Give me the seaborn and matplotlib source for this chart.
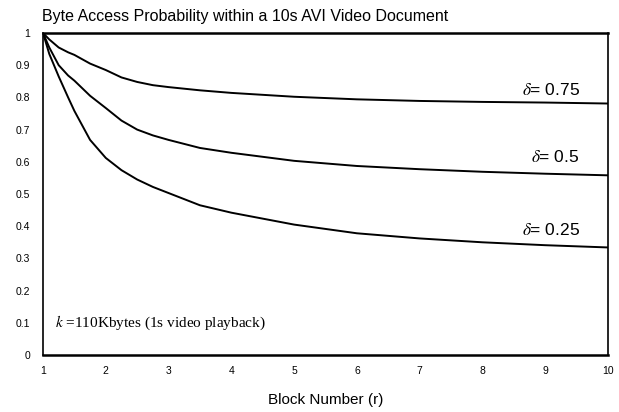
import numpy as np
import pandas as pd
import matplotlib
matplotlib.use("Agg")
import matplotlib.pyplot as plt
import seaborn as sns

# Data
block = [1, 1.1, 1.25, 1.4, 1.5, 1.75, 2, 2.25, 2.5, 2.75, 3, 3.5, 4, 5, 6, 7, 8, 9, 10]
p_075 = [1.0, 0.980, 0.955, 0.940, 0.932, 0.905, 0.885, 0.862, 0.848, 0.838, 0.832, 0.822, 0.814, 0.802, 0.794, 0.789, 0.786, 0.784, 0.781]
p_050 = [1.0, 0.955, 0.900, 0.868, 0.852, 0.805, 0.767, 0.728, 0.700, 0.682, 0.668, 0.643, 0.628, 0.603, 0.587, 0.577, 0.569, 0.563, 0.558]
p_025 = [1.0, 0.935, 0.865, 0.800, 0.758, 0.668, 0.612, 0.574, 0.545, 0.522, 0.503, 0.465, 0.442, 0.405, 0.378, 0.362, 0.350, 0.341, 0.334]
deltas = ["0.75", "0.5", "0.25"]
x_ticks = list(range(1, 11))
y_ticks = [0, 0.1, 0.2, 0.3, 0.4, 0.5, 0.6, 0.7, 0.8, 0.9, 1]
y_tick_labels = ["0", "0.1", "0.2", "0.3", "0.4", "0.5", "0.6", "0.7", "0.8", "0.9", "1"]

df = pd.DataFrame({
    "block": block * 3,
    "p": p_075 + p_050 + p_025,
    "delta": [deltas[0]] * len(block) + [deltas[1]] * len(block) + [deltas[2]] * len(block),
})

sns.set_theme(style="white")
plt.rcParams["font.family"] = ["Liberation Sans", "DejaVu Sans"]
plt.rcParams["mathtext.fontset"] = "stix"

fig = plt.figure(figsize=(6.19, 4.12), dpi=100)
ax = fig.add_axes([43 / 619, 1 - 355 / 412, 565 / 619, 322 / 412])

sns.lineplot(data=df, x="block", y="p", hue="delta", palette=["black"] * 3,
             legend=False, ax=ax, linewidth=1.4)

ax.set_xlim(1, 10)
ax.set_ylim(0, 1)
ax.set_xticks(x_ticks)
ax.set_xticklabels([str(t) for t in x_ticks])
ax.set_yticks(y_ticks)
ax.set_yticklabels(y_tick_labels)
ax.tick_params(axis="both", length=0, labelsize=7.5, colors="black")
ax.tick_params(axis="x", pad=8)
ax.tick_params(axis="y", pad=9)
for s in ax.spines.values():
    s.set_color("black")
    s.set_linewidth(1.2)
ax.spines["top"].set_linewidth(1.8)
ax.spines["bottom"].set_linewidth(1.8)

ax.set_xlabel("Block Number (r)", fontsize=11, color="black", labelpad=12)
ax.set_ylabel("")

fig.text(42 / 619, 1 - 17 / 412, "Byte Access Probability within a 10s AVI Video Document",
         fontsize=11.5, ha="left", va="center", color="black")

label_y = [0.823, 0.615, 0.388]
for d, yv in zip(deltas, label_y):
    ax.text(9.55, yv, r"$\delta$" + "= " + d, ha="right", va="center", fontsize=12.5, color="black")

ax.text(1.19, 0.10, r"$k$" + " =110Kbytes (1s video playback)", ha="left", va="center",
        fontsize=11, color="black", family=["Liberation Serif", "DejaVu Serif"])

fig.savefig("out.png", dpi=100)
